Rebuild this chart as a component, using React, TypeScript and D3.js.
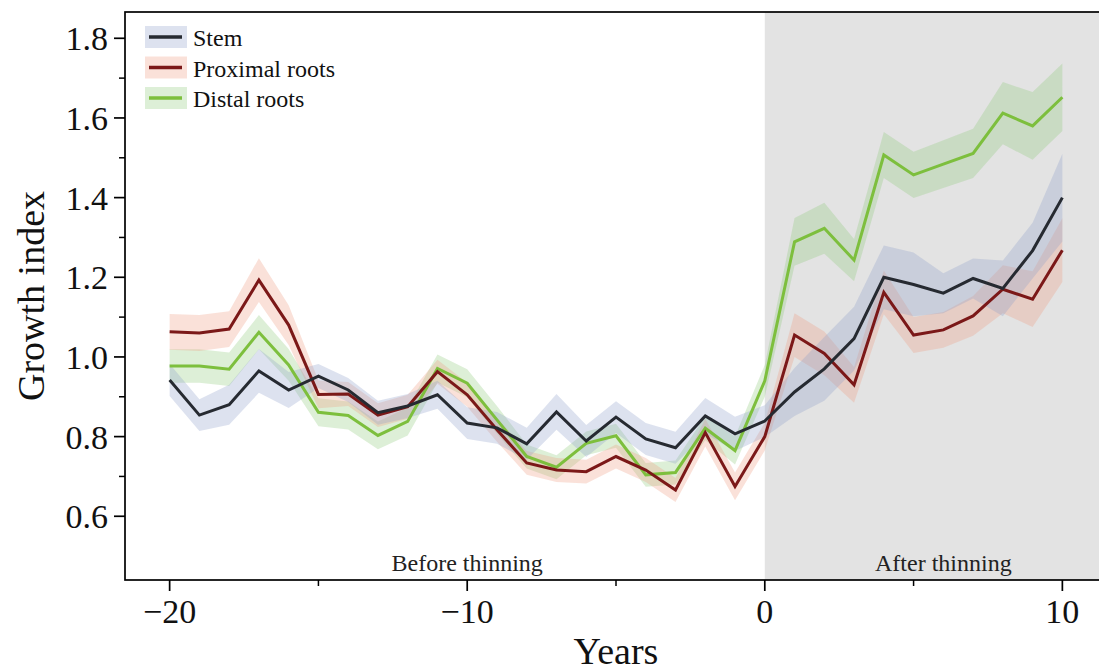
import React from "react";
import * as d3 from "d3";

const years = [-20,-19,-18,-17,-16,-15,-14,-13,-12,-11,-10,-9,-8,-7,-6,-5,-4,-3,-2,-1,0,1,2,3,4,5,6,7,8,9,10];

const stemMean = [0.942,0.854,0.880,0.965,0.917,0.952,0.917,0.860,0.877,0.905,0.834,0.822,0.782,0.862,0.789,0.849,0.794,0.772,0.852,0.807,0.839,0.912,0.970,1.046,1.200,1.182,1.160,1.197,1.172,1.267,1.400];
const stemSE = [0.04,0.04,0.05,0.055,0.045,0.03,0.03,0.03,0.03,0.035,0.04,0.04,0.04,0.045,0.04,0.04,0.04,0.04,0.045,0.043,0.04,0.06,0.08,0.08,0.08,0.08,0.05,0.05,0.07,0.07,0.11];

const proxMean = [1.063,1.060,1.070,1.193,1.080,0.906,0.907,0.854,0.875,0.963,0.905,0.817,0.734,0.716,0.712,0.750,0.716,0.666,0.810,0.675,0.800,1.055,1.009,0.930,1.162,1.055,1.068,1.103,1.170,1.145,1.268];
const proxSE = [0.045,0.045,0.045,0.055,0.05,0.035,0.03,0.03,0.03,0.03,0.03,0.03,0.03,0.03,0.03,0.03,0.03,0.03,0.035,0.035,0.035,0.055,0.055,0.045,0.055,0.045,0.045,0.05,0.06,0.07,0.08];

const distMean = [0.977,0.977,0.969,1.062,0.980,0.861,0.853,0.803,0.838,0.971,0.934,0.842,0.750,0.723,0.783,0.802,0.704,0.710,0.821,0.765,0.940,1.289,1.323,1.243,1.507,1.457,1.484,1.511,1.612,1.580,1.652];
const distSE = [0.042,0.042,0.042,0.043,0.04,0.035,0.035,0.035,0.035,0.035,0.035,0.035,0.03,0.03,0.03,0.03,0.03,0.03,0.03,0.035,0.04,0.06,0.064,0.053,0.058,0.058,0.06,0.062,0.078,0.085,0.085];

const seriesNames = ["Stem", "Proximal roots", "Distal roots"];
const lineColors = ["#262a31", "#7b1818", "#7dbf3d"];
const bandColors = ["#8da0cb", "#ee9a80", "#8fc97a"];

const yMajor = [0.6, 0.8, 1.0, 1.2, 1.4, 1.6, 1.8];
const yMinor = [0.7, 0.9, 1.1, 1.3, 1.5, 1.7];
const xMajor = [-20, -10, 0, 10];
const xMinor = [-15, -5, 5];

const FONT = "'Liberation Serif', 'Times New Roman', serif";

export default function App() {
  const W = 1099, H = 669;
  const left = 125, right = 1107, top = 12, bottom = 580;
  const x = d3.scaleLinear().domain([-21.5, 11.5]).range([left, right]);
  const y = d3.scaleLinear().domain([0.44, 1.866]).range([bottom, top]);

  const means = [stemMean, proxMean, distMean];
  const ses = [stemSE, proxSE, distSE];

  const area = (m: number[], s: number[]) =>
    d3.area<number>()
      .x((_, i) => x(years[i]))
      .y0((_, i) => y(m[i] - s[i]))
      .y1((_, i) => y(m[i] + s[i]))(m) || "";
  const line = (m: number[]) =>
    d3.line<number>().x((_, i) => x(years[i])).y((v) => y(v))(m) || "";

  const drawOrder = [2, 1, 0];

  return (
    <svg width={W} height={H} style={{ position: "absolute", left: 0, top: 0, background: "#fff" }} fontFamily={FONT}>
      <rect x={x(0)} y={top} width={right - x(0)} height={bottom - top} fill="#e3e3e3" />
      {drawOrder.map((k) => (
        <path key={"b" + k} d={area(means[k], ses[k])} fill={bandColors[k]} fillOpacity={0.3} stroke="none" />
      ))}
      {drawOrder.map((k) => (
        <path key={"l" + k} d={line(means[k])} fill="none" stroke={lineColors[k]} strokeWidth={3} strokeLinejoin="miter" />
      ))}

      <text x={x(-10)} y={571} fontSize={24} textAnchor="middle" fill="#222">Before thinning</text>
      <text x={x(6)} y={571} fontSize={24} textAnchor="middle" fill="#222">After thinning</text>

      {/* legend */}
      {seriesNames.map((n, i) => {
        const cy = 37 + i * 30.5;
        return (
          <g key={n}>
            <rect x={145} y={cy - 11} width={42} height={22} fill={bandColors[i]} fillOpacity={0.3} />
            <line x1={149} x2={182} y1={cy} y2={cy} stroke={lineColors[i]} strokeWidth={3.5} />
            <text x={193} y={cy + 9} fontSize={24} fill="#111">{n}</text>
          </g>
        );
      })}

      {/* frame */}
      <rect x={left} y={top} width={right - left} height={bottom - top} fill="none" stroke="#000" strokeWidth={1.7} />

      {/* y ticks */}
      {yMajor.map((v) => (
        <g key={"ym" + v}>
          <line x1={left - 11} x2={left} y1={y(v)} y2={y(v)} stroke="#000" strokeWidth={1.7} />
          <text x={left - 17} y={y(v)} dy="0.35em" fontSize={34} textAnchor="end" fill="#111">{v.toFixed(1)}</text>
        </g>
      ))}
      {yMinor.map((v) => (
        <line key={"yn" + v} x1={left - 6} x2={left} y1={y(v)} y2={y(v)} stroke="#000" strokeWidth={1.5} />
      ))}

      {/* x ticks */}
      {xMajor.map((v) => (
        <g key={"xm" + v}>
          <line x1={x(v)} x2={x(v)} y1={bottom} y2={bottom + 11} stroke="#000" strokeWidth={1.7} />
          <text x={x(v)} y={623} fontSize={34} textAnchor="middle" fill="#111">{v < 0 ? "\u2212" + Math.abs(v) : String(v)}</text>
        </g>
      ))}
      {xMinor.map((v) => (
        <line key={"xn" + v} x1={x(v)} x2={x(v)} y1={bottom} y2={bottom + 6} stroke="#000" strokeWidth={1.5} />
      ))}

      <text x={(left + right) / 2} y={664} fontSize={38} textAnchor="middle" fill="#111">Years</text>
      <text transform={`translate(44, ${(top + bottom) / 2}) rotate(-90)`} fontSize={38} textAnchor="middle" fill="#111">Growth index</text>
    </svg>
  );
}
